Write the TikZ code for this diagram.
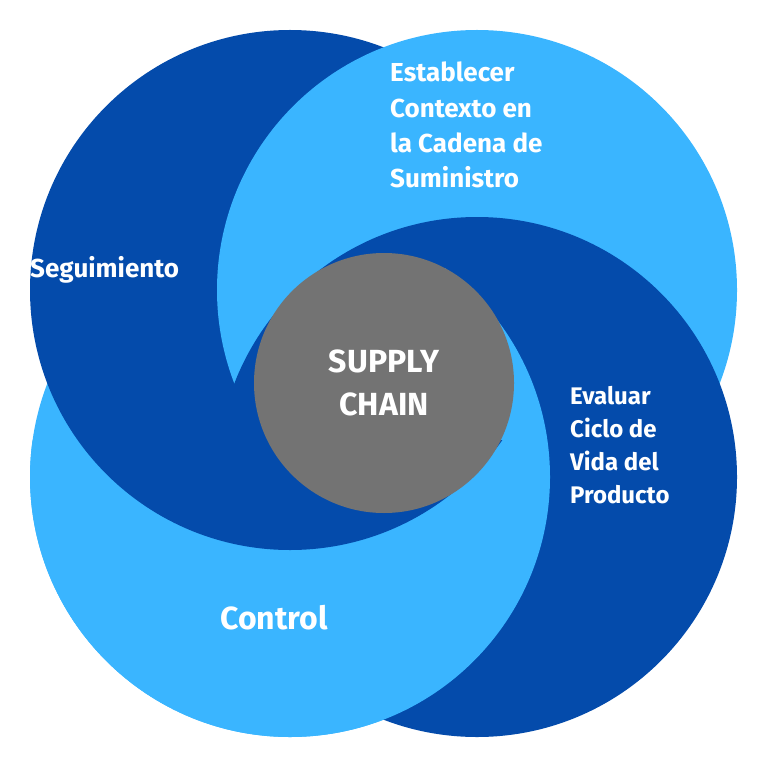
\documentclass[tikz,border=0pt]{standalone}
\usepackage{fontspec}
\setmainfont{Fira Sans}
\definecolor{darkb}{HTML}{044BAB}
\definecolor{lightb}{HTML}{3AB5FF}
\definecolor{grayc}{HTML}{737373}
\begin{document}
\begin{tikzpicture}[x=1pt,y=-1pt,
  lbl/.style={text=white,font=\bfseries,align=left,inner sep=0pt}]
\useasboundingbox (0,0) rectangle (767,767);
\fill[lightb] (290,477) circle (260);
\fill[darkb] (290,290) circle (260);
\fill[lightb] (477,290) circle (260);
\fill[darkb] (477,477) circle (260);
\begin{scope}
\clip (445,0) -- (767,0) -- (767,767) -- (0,767) -- (0,440) -- (445,440) -- cycle;
\fill[lightb] (290,477) circle (260);
\end{scope}
\begin{scope}
\clip (0,440) rectangle (767,767);
\fill[darkb] (290,290) circle (260);
\end{scope}
\fill[grayc] (384,383) circle (130);
\node[lbl,font=\bfseries\fontsize{32}{43}\selectfont,align=center] (sc) at (384,383) {SUPPLY\\CHAIN};
\node[lbl,anchor=north west,font=\bfseries\fontsize{26}{35.3}\selectfont] (ec) at (390,62) {Establecer\\Contexto en\\la Cadena de\\Suministro};
\node[lbl,anchor=west,font=\bfseries\fontsize{26}{30}\selectfont] (sg) at (30,270) {Seguimiento};
\node[lbl,anchor=north west,font=\bfseries\fontsize{24}{33}\selectfont] (ev) at (570,386) {Evaluar\\Ciclo de\\Vida del\\Producto};
\node[lbl,font=\bfseries\fontsize{32}{36}\selectfont] (ct) at (274,618) {Control};
\end{tikzpicture}
\end{document}
